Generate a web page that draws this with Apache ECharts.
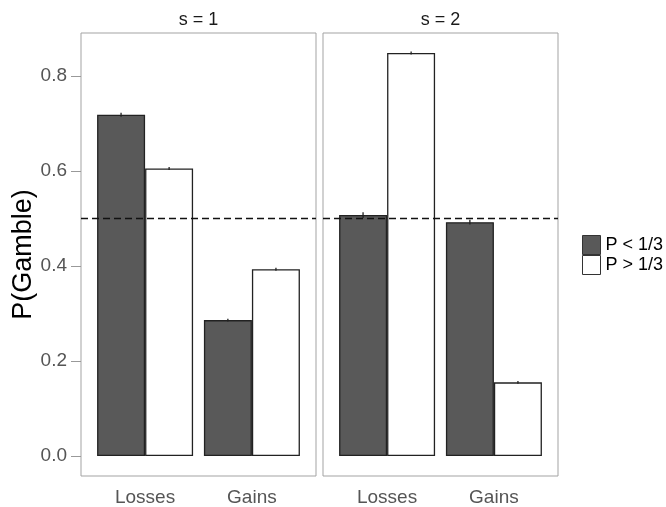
<!DOCTYPE html>
<html>
<head>
<meta charset="utf-8">
<title>P(Gamble) by domain and s</title>
<script src="https://cdn.jsdelivr.net/npm/echarts@6/dist/echarts.min.js"></script>
<style>
  html, body { margin: 0; padding: 0; background: #ffffff; }
  #chart { width: 666px; height: 507px; }
</style>
</head>
<body>
<div id="chart"></div>
<script>
// Domains shown on the x axis of each panel
const categories = ['Losses', 'Gains'];
// Facet strip labels
const facets = ['s = 1', 's = 2'];
// Legend / series names
const seriesNames = ['P < 1/3', 'P > 1/3'];

// Mean probability of choosing the gamble, per facet and domain
const lowP_s1 = [0.718, 0.286];
const highP_s1 = [0.605, 0.393];
const lowP_s2 = [0.507, 0.492];
const highP_s2 = [0.848, 0.155];

// Standard errors (tiny)
const lowErr_s1 = [0.003, 0.002];
const highErr_s1 = [0.002, 0.002];
const lowErr_s2 = [0.005, 0.004];
const highErr_s2 = [0.002, 0.002];

// Y axis tick labels
const yTicks = [0, 0.2, 0.4, 0.6, 0.8];
// Indifference reference line
const referenceLevel = 0.5;

const FONT = '"Liberation Sans", Arial, Helvetica, sans-serif';
const DARK = '#595959';
const LIGHT = '#ffffff';
const EDGE = '#222222';
const BAR_PX = 48;
const DODGE = 0.225; // half of a dodged bar width, in axis units

const panels = [
  { low: lowP_s1, high: highP_s1, lowErr: lowErr_s1, highErr: highErr_s1, left: 81 },
  { low: lowP_s2, high: highP_s2, lowErr: lowErr_s2, highErr: highErr_s2, left: 323 }
];

const catPos = categories.map((c, i) => i + 1);

function barData(values) {
  return values.map((v, i) => [catPos[i], v]);
}
function errData(values, errs) {
  return values.map((v, i) => [catPos[i], v, errs[i]]);
}
function errorRenderer(offset) {
  return function (params, api) {
    const x = api.value(0) + offset;
    const v = api.value(1);
    const e = api.value(2);
    const p1 = api.coord([x, v + e]);
    const p2 = api.coord([x, v - e]);
    return {
      type: 'line',
      shape: { x1: p1[0], y1: p1[1] - 0.5, x2: p2[0], y2: p2[1] + 0.5 },
      style: { stroke: EDGE, lineWidth: 1.3 }
    };
  };
}

const grids = [], xAxes = [], yAxes = [], series = [];
panels.forEach((p, k) => {
  grids.push({
    left: p.left, top: 33, width: 235, height: 444,
    show: true, borderColor: '#a3a3a3', borderWidth: 1,
    backgroundColor: 'transparent', containLabel: false
  });
  xAxes.push({
    type: 'value', gridIndex: k, min: 0.4, max: 2.6,
    axisLine: { show: false }, axisTick: { show: false }, splitLine: { show: false },
    axisLabel: {
      customValues: catPos,
      formatter: (v) => categories[Math.round(v) - 1] || '',
      color: '#555555', fontSize: 19, fontFamily: FONT, margin: 12
    }
  });
  yAxes.push({
    type: 'value', gridIndex: k, min: -0.042, max: 0.89,
    splitLine: { show: false },
    axisLine: { show: false },
    axisTick: {
      show: k === 0, customValues: yTicks, length: 10,
      lineStyle: { color: '#999999', width: 1 }
    },
    axisLabel: {
      show: k === 0, customValues: yTicks,
      formatter: (v) => v.toFixed(1),
      color: '#555555', fontSize: 19, fontFamily: FONT, margin: 14
    },
    name: k === 0 ? 'P(Gamble)' : '',
    nameLocation: 'middle', nameGap: 40,
    nameTextStyle: { fontSize: 27, fontFamily: FONT, color: '#000000' }
  });
  series.push({
    name: seriesNames[0], type: 'bar', xAxisIndex: k, yAxisIndex: k,
    barWidth: BAR_PX, barGap: '0%',
    itemStyle: { color: DARK, borderColor: EDGE, borderWidth: 1.3 },
    data: barData(p.low),
    silent: true,
    markLine: {
      silent: true, symbol: ['none', 'none'],
      label: { show: false },
      lineStyle: { type: [7, 4], color: '#111111', width: 1.4 },
      data: [{ yAxis: referenceLevel }]
    },
    z: 2
  });
  series.push({
    name: seriesNames[1], type: 'bar', xAxisIndex: k, yAxisIndex: k,
    barWidth: BAR_PX, barGap: '0%',
    itemStyle: { color: LIGHT, borderColor: EDGE, borderWidth: 1.3 },
    data: barData(p.high),
    silent: true,
    z: 2
  });
  series.push({
    type: 'custom', xAxisIndex: k, yAxisIndex: k,
    renderItem: errorRenderer(-DODGE), data: errData(p.low, p.lowErr),
    encode: { x: 0, y: 1 }, silent: true, z: 3
  });
  series.push({
    type: 'custom', xAxisIndex: k, yAxisIndex: k,
    renderItem: errorRenderer(DODGE), data: errData(p.high, p.highErr),
    encode: { x: 0, y: 1 }, silent: true, z: 3
  });
});

const chart = echarts.init(document.getElementById('chart'), null, { renderer: 'canvas' });
chart.setOption({
  animation: false,
  backgroundColor: '#ffffff',
  grid: grids,
  xAxis: xAxes,
  yAxis: yAxes,
  legend: {
    orient: 'vertical', left: 582, top: 235, padding: 0,
    itemWidth: 18, itemHeight: 19, itemGap: 0,
    icon: 'rect', selectedMode: false,
    textStyle: { fontSize: 18, fontFamily: FONT, color: '#000000', lineHeight: 19 },
    data: [
      { name: seriesNames[0], itemStyle: { color: DARK, borderColor: '#333333', borderWidth: 1 } },
      { name: seriesNames[1], itemStyle: { color: LIGHT, borderColor: '#333333', borderWidth: 1 } }
    ]
  },
  graphic: facets.map((f, k) => ({
    type: 'text',
    x: panels[k].left + 117.5, y: 20,
    style: {
      text: f, fontSize: 18, fontFamily: FONT, fill: '#1a1a1a',
      textAlign: 'center', textVerticalAlign: 'middle'
    }
  })),
  series: series
});
</script>
</body>
</html>
